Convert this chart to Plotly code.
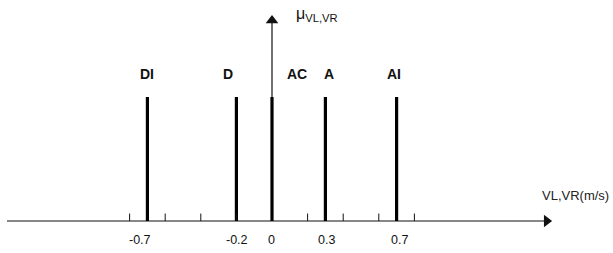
import plotly.graph_objects as go

# Data
singleton_x = [-0.7, -0.2, 0.0, 0.3, 0.7]
singleton_mu = [1, 1, 1, 1, 1]
tick_label_x = [-0.7, -0.2, 0.0, 0.3, 0.7]
tick_label_text = ["-0.7", "-0.2", "0", "0.3", "0.7"]
set_labels = ["DI", "D", "AC", "A", "AI"]
set_label_x = [-0.7, -0.245, 0.14, 0.32, 0.685]
minor_ticks = [-0.8, -0.6, -0.4, -0.2, 0.2, 0.4, 0.6, 0.8]

# Pixel-mapping ranges (plot fills whole canvas)
X0, XS = 272.0, 178.0   # pixel of x=0, px per unit
Y0, YS = 221.0, 124.0   # pixel of y=0, px per unit
W, H = 613, 253
xr = [(0 - X0) / XS, (W - X0) / XS]
yr = [(Y0 - H) / YS, Y0 / YS]

x_axis_start, x_axis_end = (7 - X0) / XS, (552 - X0) / XS
y_axis_pos = 0.0
y_axis_end = (Y0 - 15) / YS

axis_color = "#111111"
fig = go.Figure()
fig.add_trace(go.Bar(x=singleton_x, y=singleton_mu, width=0.018,
                     marker=dict(color="black", line=dict(width=0)),
                     hoverinfo="skip"))

# axis lines
fig.add_shape(type="line", x0=x_axis_start, x1=x_axis_end - 0.03, y0=0, y1=0,
              line=dict(color=axis_color, width=1.2), layer="below")
fig.add_shape(type="line", x0=y_axis_pos, x1=y_axis_pos, y0=0, y1=y_axis_end - 0.05,
              line=dict(color=axis_color, width=1.2), layer="below")
# arrow heads
fig.add_trace(go.Scatter(x=[x_axis_end - 0.03], y=[0], mode="markers",
                         marker=dict(symbol="triangle-right", size=11, color=axis_color,
                                     line=dict(width=0)), hoverinfo="skip"))
fig.add_trace(go.Scatter(x=[y_axis_pos], y=[y_axis_end - 0.045], mode="markers",
                         marker=dict(symbol="triangle-up", size=11, color=axis_color,
                                     line=dict(width=0)), hoverinfo="skip"))

for t in minor_ticks:
    fig.add_shape(type="line", x0=t, x1=t, y0=0, y1=0.06, xref="x", yref="y",
                  line=dict(color=axis_color, width=1))

shifts = [-7, 1, -1, 1, 3]
for xv, txt, sh in zip(tick_label_x, tick_label_text, shifts):
    fig.add_annotation(x=xv, y=-0.155, text=txt, showarrow=False, xshift=sh,
                       font=dict(family="Liberation Sans", size=12.5, color="#111"))

for xv, txt in zip(set_label_x, set_labels):
    fig.add_annotation(x=xv, y=1.185, text="<b>%s</b>" % txt, showarrow=False,
                       font=dict(family="Liberation Sans", size=14, color="#111"))

fig.add_annotation(x=(294 - X0) / XS, y=(Y0 - 14) / YS, xanchor="left",
                   text="μ<sub>VL,VR</sub>", showarrow=False,
                   font=dict(family="Liberation Sans", size=16, color="#111"))
fig.add_annotation(x=(611 - X0) / XS, y=(Y0 - 195) / YS, xanchor="right",
                   text="VL,VR(m/s)", showarrow=False,
                   font=dict(family="Liberation Sans", size=13, color="#222"))

fig.update_layout(width=W, height=H, margin=dict(l=0, r=0, t=0, b=0),
                  paper_bgcolor="white", plot_bgcolor="white", showlegend=False,
                  xaxis=dict(range=xr, visible=False, fixedrange=True),
                  yaxis=dict(range=yr, visible=False, fixedrange=True))
fig.write_html("out.html", config={"displayModeBar": False},
               post_script="document.body.style.margin='0';document.body.style.overflow='hidden';")
